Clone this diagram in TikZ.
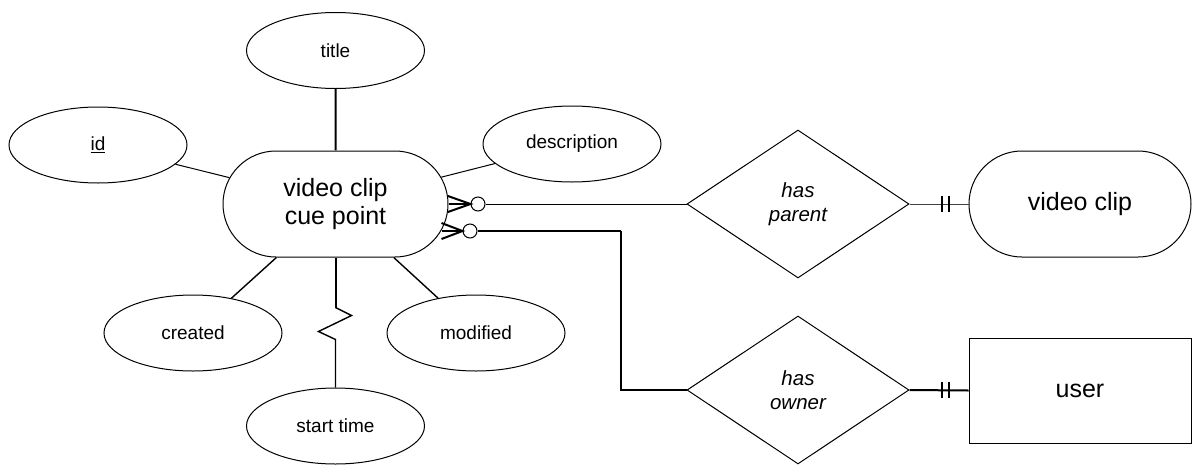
\documentclass[tikz,border=0pt]{standalone}
\usepackage{fontspec}
\setmainfont{Liberation Sans}
\usetikzlibrary{shapes.geometric,shapes.misc,calc}
\begin{document}
\begin{tikzpicture}[x=1pt,y=-1pt,
  attr/.style={draw, ellipse, minimum width=178pt, minimum height=76pt,
    inner sep=0pt, line width=1pt, font=\fontsize{19}{22}\selectfont},
  entity/.style={draw, rounded rectangle, minimum width=222pt, minimum height=106pt,
    inner sep=0pt, line width=1pt, align=center, font=\fontsize{25}{28}\selectfont},
  relation/.style={draw, diamond, minimum width=222pt, minimum height=148pt,
    inner sep=0pt, line width=1pt, align=center,
    font=\fontsize{20.5}{24}\selectfont\itshape},
  thinlink/.style={line width=1pt},
  midlink/.style={line width=1.4pt},
  heavylink/.style={line width=2pt},
  optcirc/.style={draw, circle, minimum size=14pt, inner sep=0pt,
    line width=1pt, fill=white}]
\useasboundingbox (0,0) rectangle (1192,464);

% entities
\node[entity, minimum width=225pt] (cue) at (335.5,204) {video clip\\cue point};
\node[entity] (clip) at (1080,204) {video clip};
\node[draw, rectangle, line width=1pt, minimum width=222pt, minimum height=105pt,
  font=\fontsize{25}{28}\selectfont] (user) at (1080,390.5) {user};

% attributes of the cue point
\node[attr] (title) at (335.5,50.5) {title};
\node[attr] (id) at (98,145) {\underline{id}};
\node[attr] (desc) at (572,144) {description};
\node[attr] (created) at (193,333) {created};
\node[attr] (modified) at (476,333) {modified};
\node[attr] (start) at (335.5,426) {start time};

% relationships
\node[relation] (parent) at (798,204) {has\\parent};
\node[relation] (owner) at (798,390) {has\\owner};

% attribute links
\draw[heavylink] (title) -- (cue);
\draw[thinlink] (id) -- (cue);
\draw[thinlink] (desc) -- (cue);
\draw[midlink] (created) -- (cue);
\draw[midlink] (modified) -- (cue);
\draw[heavylink] (cue.south) -- ++(0,50) coordinate (zz);
\draw[midlink] (zz) -- ++(16,8) -- ++(-33,16) -- ++(17,8) -- (start.north);

% zero-or-many ends at the cue point
\node[optcirc] (o1) at (478,204) {};
\node[optcirc] (o2) at (470,231) {};
\draw[heavylink] (cue.east) -- (o1.west);
\draw[heavylink] ($(cue.east)+(-0.6,-8)$) -- (o1.west) -- ($(cue.east)+(-0.6,8)$);
\draw[heavylink] ($(cue.east)+(-7,27)$) -- (o2.west);
\draw[heavylink] ($(cue.east)+(-7,19)$) -- (o2.west) -- ($(cue.east)+(-7,35)$);

\draw[thinlink] (o1.east) -- (parent.west);
\draw[heavylink] (o2.east) -- ++(143,0) coordinate (bend);
\draw[heavylink] (bend) |- (owner.west);

% exactly-one ends
\draw[thinlink, black!75] (parent.east) -- (clip.west);
\draw[heavylink] ($(parent.east)+(32,-8)$) -- ++(0,16);
\draw[heavylink] ($(parent.east)+(39,-8)$) -- ++(0,16);
\draw[heavylink] (owner.east) -- (user.west);
\draw[heavylink] ($(owner.east)+(32,-8)$) -- ++(0,16);
\draw[heavylink] ($(owner.east)+(39,-8)$) -- ++(0,16);
\end{tikzpicture}
\end{document}
